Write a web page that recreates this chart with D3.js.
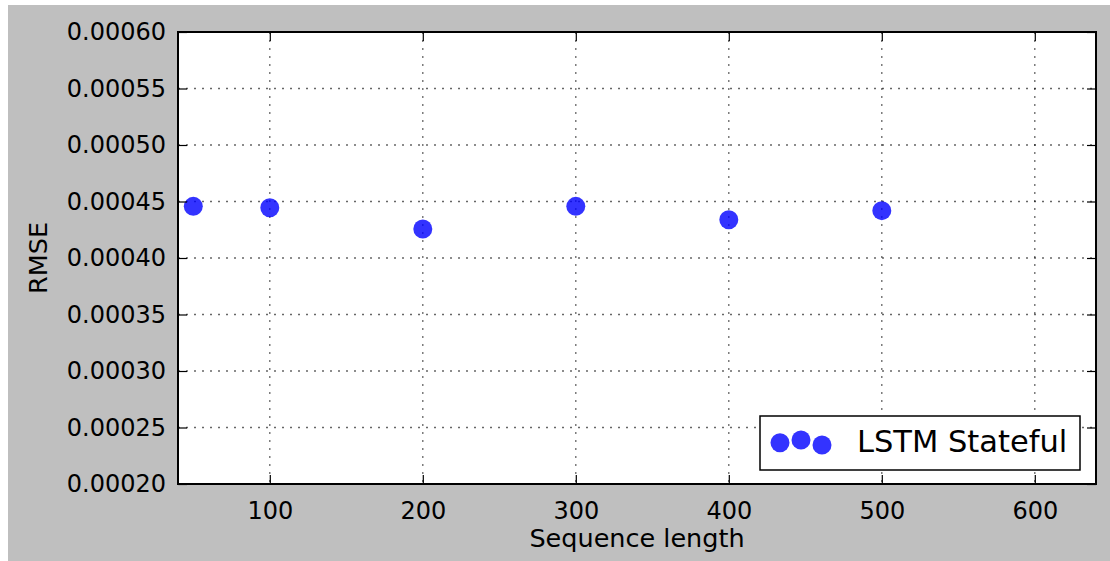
<!DOCTYPE html>
<html>
<head>
<meta charset="utf-8">
<script src="https://cdn.jsdelivr.net/npm/d3@7"></script>
<style>
  html, body { margin: 0; padding: 0; background: #ffffff; }
  svg { display: block; }
  text { font-family: "DejaVu Sans", sans-serif; fill: #000; }
</style>
</head>
<body>
<svg id="chart" width="1110" height="561"></svg>
<script>
// Sequence lengths tested and the RMSE obtained for each
const sequenceLengths = [50, 100, 200, 300, 400, 500];
const rmseValues = [0.0004457, 0.0004445, 0.0004257, 0.0004457, 0.0004339, 0.0004419];

const xTicks = [100, 200, 300, 400, 500, 600];
const yTicks = [0.00020, 0.00025, 0.00030, 0.00035, 0.00040, 0.00045, 0.00050, 0.00055, 0.00060];
const seriesName = "LSTM Stateful";

const W = 1110, H = 561;
const plot = { left: 178, top: 32, right: 1096, bottom: 484 };
const tickLen = 9;
const markerR = 9.5;
const markerFill = "#0000ff";
const markerOpacity = 0.8;

const svg = d3.select("#chart");

// figure background
svg.append("rect")
  .attr("x", 8).attr("y", 5)
  .attr("width", W - 8).attr("height", H - 5)
  .attr("fill", "#bfbfbf");

// axes background
svg.append("rect")
  .attr("x", plot.left).attr("y", plot.top)
  .attr("width", plot.right - plot.left).attr("height", plot.bottom - plot.top)
  .attr("fill", "#ffffff");

const x = d3.scaleLinear().domain([40, 640]).range([plot.left, plot.right]);
const y = d3.scaleLinear().domain([0.0002, 0.0006]).range([plot.bottom, plot.top]);

// dotted grid
const grid = svg.append("g")
  .attr("stroke", "#000")
  .attr("stroke-opacity", 0.6)
  .attr("stroke-width", 1.3)
  .attr("stroke-dasharray", "2,6");
grid.selectAll("line.gx").data(xTicks).join("line")
  .attr("class", "gx")
  .attr("x1", d => x(d)).attr("x2", d => x(d))
  .attr("y1", plot.top).attr("y2", plot.bottom);
grid.selectAll("line.gy").data(yTicks).join("line")
  .attr("class", "gy")
  .attr("x1", plot.left).attr("x2", plot.right)
  .attr("y1", d => y(d)).attr("y2", d => y(d));

// scatter points
svg.append("g").selectAll("circle").data(sequenceLengths).join("circle")
  .attr("cx", d => x(d))
  .attr("cy", (d, i) => y(rmseValues[i]))
  .attr("r", markerR)
  .attr("fill", markerFill)
  .attr("fill-opacity", markerOpacity);

// axes: bottom/left with labels, top/right mirrored ticks, all inward
const fmtY = d3.format(".5f");
const bottomAxis = d3.axisBottom(x).tickValues(xTicks).tickSizeInner(-tickLen).tickSizeOuter(0).tickPadding(18).tickFormat(d3.format("d"));
const topAxis = d3.axisTop(x).tickValues(xTicks).tickSizeInner(-tickLen).tickSizeOuter(0).tickFormat("");
const leftAxis = d3.axisLeft(y).tickValues(yTicks).tickSizeInner(-tickLen).tickSizeOuter(0).tickPadding(12).tickFormat(fmtY);
const rightAxis = d3.axisRight(y).tickValues(yTicks).tickSizeInner(-tickLen).tickSizeOuter(0).tickFormat("");

function styleAxis(g) {
  g.select(".domain").remove();
  g.selectAll(".tick line").attr("stroke", "#000").attr("stroke-width", 1.2);
  g.selectAll(".tick text").attr("font-size", 24).attr("font-family", "DejaVu Sans").attr("fill", "#111");
}
svg.append("g").attr("transform", `translate(0,${plot.bottom})`).call(bottomAxis).call(styleAxis);
svg.append("g").attr("transform", `translate(0,${plot.top})`).call(topAxis).call(styleAxis);
svg.append("g").attr("transform", `translate(${plot.left},0)`).call(leftAxis).call(styleAxis);
svg.append("g").attr("transform", `translate(${plot.right},0)`).call(rightAxis).call(styleAxis);

// axes frame
svg.append("rect")
  .attr("x", plot.left).attr("y", plot.top)
  .attr("width", plot.right - plot.left).attr("height", plot.bottom - plot.top)
  .attr("fill", "none").attr("stroke", "#000").attr("stroke-width", 2);

// axis titles
svg.append("text")
  .attr("x", (plot.left + plot.right) / 2).attr("y", 547)
  .attr("text-anchor", "middle").attr("font-size", 25.5).attr("fill", "#111")
  .text("Sequence length");
svg.append("text")
  .attr("transform", `translate(47,${(plot.top + plot.bottom) / 2}) rotate(-90)`)
  .attr("text-anchor", "middle").attr("font-size", 25.5).attr("fill", "#111")
  .text("RMSE");

// legend
const legend = svg.append("g").attr("transform", "translate(760,416)");
legend.append("rect")
  .attr("width", 320).attr("height", 54)
  .attr("fill", "#fff").attr("stroke", "#000").attr("stroke-width", 1.5);
const legendMarkers = [{ dx: 20, dy: 26.7 }, { dx: 41, dy: 24 }, { dx: 62, dy: 29 }];
legend.selectAll("circle").data(legendMarkers).join("circle")
  .attr("cx", d => d.dx).attr("cy", d => d.dy)
  .attr("r", markerR)
  .attr("fill", markerFill)
  .attr("fill-opacity", markerOpacity);
legend.append("text")
  .attr("x", 97).attr("y", 36)
  .attr("font-size", 30.5).attr("fill", "#111")
  .text(seriesName);
</script>
</body>
</html>
